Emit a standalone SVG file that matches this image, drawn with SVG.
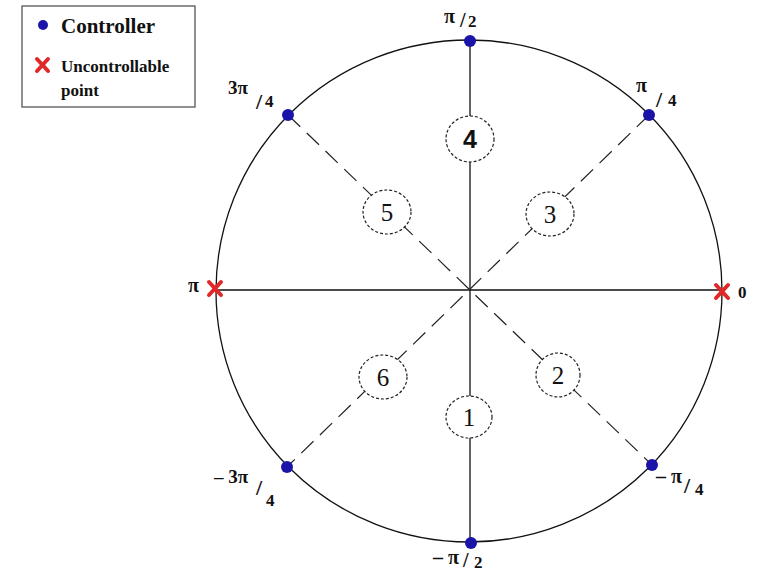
<svg xmlns="http://www.w3.org/2000/svg" width="758" height="572" viewBox="0 0 758 572">
<style>
.lbl{font-family:"Liberation Serif","DejaVu Serif",serif;font-weight:bold;fill:#111}
.num{font-family:"Liberation Serif","DejaVu Serif",serif;font-size:25px;fill:#111;text-anchor:middle}
.zone{fill:#fff;stroke:#222;stroke-width:1.2;stroke-dasharray:3 2}
.solid{stroke:#111;stroke-width:1.3;fill:none}
.dash{stroke:#222;stroke-width:1.2;stroke-dasharray:17 9;fill:none}
.ctl{fill:#1a14a8}
.unc{stroke:#e02828;stroke-width:4;stroke-linecap:round}
</style>
<rect width="758" height="572" fill="#fff"/>
<g id="legend">
<rect x="22" y="6" width="173" height="101" fill="#fff" stroke="#555" stroke-width="1.3"/>
<circle cx="43" cy="25" r="5" class="ctl"/>
<text x="61" y="33" class="lbl" font-size="21">Controller</text>
<g class="unc"><line x1="37" y1="59" x2="48" y2="71"/><line x1="48" y1="59" x2="37" y2="71"/></g>
<text x="61" y="72" class="lbl" font-size="17">Uncontrollable</text>
<text x="61" y="96" class="lbl" font-size="17">point</text>
</g>
<g id="connectors">
<ellipse cx="469" cy="291" rx="253" ry="251" class="solid"/>
<line x1="470" y1="41" x2="470" y2="543" class="solid"/>
<line x1="215" y1="290" x2="722" y2="290" class="solid"/>
<line x1="288" y1="115" x2="652" y2="465" class="dash"/>
<line x1="649" y1="115" x2="287" y2="467" class="dash"/>
</g>
<g id="zone4"><ellipse cx="470" cy="139" rx="24" ry="23" class="zone"/><text x="470" y="148" font-family="Liberation Sans,sans-serif" font-weight="bold" font-size="25" fill="#111" text-anchor="middle">4</text></g>
<g id="zone5"><ellipse cx="387" cy="212" rx="24" ry="22" class="zone"/><text x="387" y="221" class="num">5</text></g>
<g id="zone3"><ellipse cx="550" cy="214" rx="24" ry="22" class="zone"/><text x="550" y="223" class="num">3</text></g>
<g id="zone6"><ellipse cx="383" cy="377" rx="24" ry="22" class="zone"/><text x="383" y="386" class="num">6</text></g>
<g id="zone2"><ellipse cx="558" cy="375" rx="22" ry="22" class="zone"/><text x="558" y="384" class="num">2</text></g>
<g id="zone1"><ellipse cx="469" cy="417" rx="23" ry="21" class="zone"/><text x="469" y="426" class="num">1</text></g>
<g id="c_pi2"><circle cx="470" cy="41" r="6" class="ctl"/><text x="444" y="23" class="lbl" font-size="20">π</text><text x="460" y="27" class="lbl" font-size="20">/</text><text x="468" y="27" class="lbl" font-size="17">2</text></g>
<g id="c_3pi4"><circle cx="288" cy="115" r="6" class="ctl"/><text x="228" y="94" class="lbl" font-size="19">3π</text><text x="256" y="109" class="lbl" font-size="22">/</text><text x="265" y="107" class="lbl" font-size="17">4</text></g>
<g id="c_pi4"><circle cx="649" cy="115" r="6" class="ctl"/><text x="636" y="92" class="lbl" font-size="20">π</text><text x="656" y="107" class="lbl" font-size="22">/</text><text x="668" y="106" class="lbl" font-size="17">4</text></g>
<g id="c_m3pi4"><circle cx="287" cy="467" r="6" class="ctl"/><text x="214" y="483" class="lbl" font-size="19">– 3π</text><text x="256" y="495" class="lbl" font-size="22">/</text><text x="266" y="506" class="lbl" font-size="17">4</text></g>
<g id="c_mpi4"><circle cx="652" cy="465" r="6" class="ctl"/><text x="656" y="483" class="lbl" font-size="20">– π</text><text x="684" y="493" class="lbl" font-size="22">/</text><text x="695" y="495" class="lbl" font-size="17">4</text></g>
<g id="c_mpi2"><circle cx="471" cy="543" r="6" class="ctl"/><text x="433" y="564" class="lbl" font-size="20">– π</text><text x="463" y="567" class="lbl" font-size="20">/</text><text x="474" y="568" class="lbl" font-size="17">2</text></g>
<g id="u_pi"><g class="unc"><line x1="209" y1="282" x2="221" y2="295"/><line x1="221" y1="282" x2="209" y2="295"/></g><text x="188" y="292" class="lbl" font-size="20">π</text></g>
<g id="u_0"><g class="unc"><line x1="716" y1="285" x2="728" y2="298"/><line x1="728" y1="285" x2="716" y2="298"/></g><text x="738" y="298" class="lbl" font-size="17">0</text></g>
</svg>
